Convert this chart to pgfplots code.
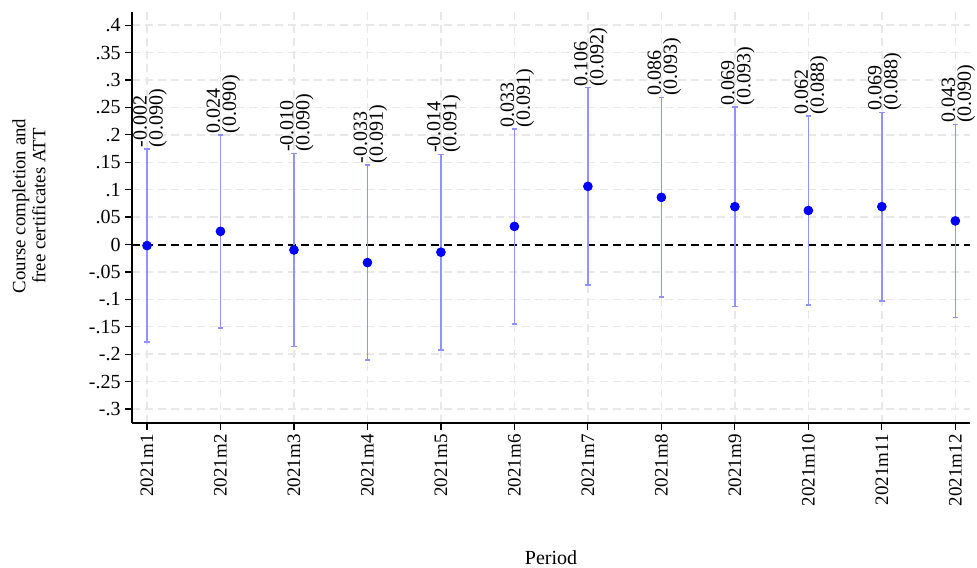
\documentclass[border=0pt]{standalone}
\usepackage{pgfplots}
\pgfplotsset{compat=1.18}
\usepackage{fontspec}
\setmainfont{Liberation Serif}
\definecolor{ciblue}{RGB}{145,145,255}
\definecolor{gridgray}{RGB}{232,232,232}
\pgfplotstableread{
x  y       ep     em
1  -0.002  0.176  0.176
2   0.024  0.176  0.176
3  -0.010  0.176  0.176
4  -0.033  0.178  0.178
5  -0.014  0.178  0.178
6   0.033  0.178  0.178
7   0.106  0.180  0.180
8   0.086  0.182  0.182
9   0.069  0.182  0.182
10  0.062  0.172  0.172
11  0.069  0.172  0.172
12  0.043  0.176  0.176
}\est
\begin{document}
\begin{tikzpicture}
\useasboundingbox (-66pt,-72pt) rectangle (422.5pt,211.5pt);
\begin{axis}[
  at={(0,0)}, anchor=south west,
  scale only axis, width=419pt, height=205.5pt,
  xmin=0.796, xmax=12.2, ymin=-0.3255, ymax=0.424,
  axis x line*=bottom, axis y line*=left,
  axis line style={line width=0.6pt, black},
  tick align=outside, major tick length=3.5pt,
  tick style={line width=0.6pt, black},
  xtick={1,2,3,4,5,6,7,8,9,10,11,12},
  xticklabels={2021m1,2021m2,2021m3,2021m4,2021m5,2021m6,2021m7,2021m8,2021m9,2021m10,2021m11,2021m12},
  xticklabel style={rotate=90, anchor=east, font=\fontsize{9.5}{11}\selectfont, inner sep=2pt},
  ytick={-0.3,-0.25,-0.2,-0.15,-0.1,-0.05,0,0.05,0.1,0.15,0.2,0.25,0.3,0.35,0.4},
  yticklabels={-.3,-.25,-.2,-.15,-.1,-.05,0,.05,.1,.15,.2,.25,.3,.35,.4},
  yticklabel style={font=\fontsize{10}{11}\selectfont, inner sep=2pt},
  /pgf/number format/assume math mode=true,
  grid=major,
  major grid style={gridgray, line width=0.7pt, dash pattern=on 4pt off 2.5pt},
  xlabel={Period},
  xlabel style={at={(axis description cs:0.5,0)}, anchor=center, yshift=-67.5pt, font=\fontsize{10}{12}\selectfont},
  ylabel={Course completion and\\free certificates ATT},
  ylabel style={at={(axis description cs:-0.123,0.528)}, anchor=center, align=center, font=\fontsize{9.4}{10}\selectfont},
  clip=false,
]
\addplot[black, dashed, line width=1pt, dash pattern=on 4pt off 2.5pt] coordinates {(0.796,0) (12.2,0)};
\addplot[draw=none, mark=*, mark size=2.2pt, mark options={fill=blue, draw=blue},
  error bars/.cd, y dir=both, y explicit,
  error bar style={ciblue, line width=0.8pt},
  error mark options={ciblue, line width=0.8pt, mark size=1.4pt, rotate=90}]
  table[x=x, y=y, y error plus=ep, y error minus=em]{\est};
\addplot[draw=none, mark=none, nodes near coords, point meta=explicit symbolic,
  every node near coord/.style={xshift=1.5pt, rotate=90, anchor=west, align=left, inner sep=0.6pt,
    font=\fontsize{10}{8}\selectfont, black}]
  coordinates {
  (1,0.174) [{-0.002\\(0.090)}]
  (2,0.200) [{0.024\\(0.090)}]
  (3,0.166) [{-0.010\\(0.090)}]
  (4,0.145) [{-0.033\\(0.091)}]
  (5,0.164) [{-0.014\\(0.091)}]
  (6,0.211) [{0.033\\(0.091)}]
  (7,0.286) [{0.106\\(0.092)}]
  (8,0.268) [{0.086\\(0.093)}]
  (9,0.251) [{0.069\\(0.093)}]
  (10,0.234) [{0.062\\(0.088)}]
  (11,0.241) [{0.069\\(0.088)}]
  (12,0.219) [{0.043\\(0.090)}]
  };
\end{axis}
\end{tikzpicture}
\end{document}
